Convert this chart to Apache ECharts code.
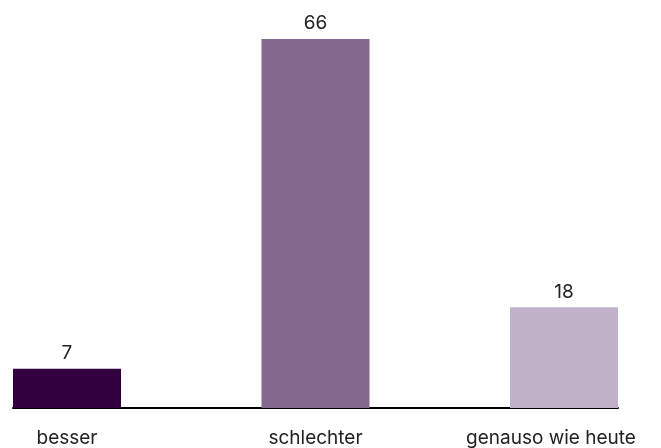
<!DOCTYPE html>
<html>
<head>
<meta charset="utf-8">
<script src="https://cdn.jsdelivr.net/npm/echarts@6/dist/echarts.min.js"></script>
<style>
  html, body { margin: 0; padding: 0; background: #ffffff; }
  #chart { width: 661px; height: 448px; }
</style>
</head>
<body>
<div id="chart"></div>
<script>
var categories = ["besser", "schlechter", "genauso wie heute"];
var values = [7, 66, 18];
var barColors = ["#32003f", "#84698f", "#c1b2c9"];

// bars sit at x = 0, 1, 2; the axis ends at the outer bar edges
var pad = 54 / 248.5;

var chart = echarts.init(document.getElementById("chart"));
chart.setOption({
  animation: false,
  textStyle: { fontFamily: "Inter, sans-serif" },
  grid: { left: 13, right: 43, top: 39, bottom: 40 },
  xAxis: {
    type: "value",
    min: -pad,
    max: 2 + pad,
    axisLine: { show: true, onZero: false, lineStyle: { color: "#000000", width: 2 } },
    axisTick: { show: false },
    splitLine: { show: false },
    axisLabel: {
      customValues: [0, 1, 2],
      formatter: function (v) {
        var i = Math.round(v);
        // last label is nudged left so it stays inside the chart
        return i === categories.length - 1 ? "{r|" + categories[i] + "}" : categories[i];
      },
      rich: {
        r: { color: "#222222", fontSize: 19, padding: [0, 26, 0, 0] },
      },
      color: "#222222",
      fontSize: 19,
      margin: 21,
    },
  },
  yAxis: { type: "value", min: 0, max: 66, show: false },
  series: [
    {
      type: "bar",
      barWidth: 108,
      data: values.map(function (v, i) {
        return { value: [i, v], itemStyle: { color: barColors[i] } };
      }),
      label: {
        show: true,
        position: "top",
        distance: 6,
        color: "#222222",
        fontSize: 19,
        formatter: function (p) {
          return p.value[1];
        },
      },
      z: 1,
    },
  ],
});
</script>
</body>
</html>
